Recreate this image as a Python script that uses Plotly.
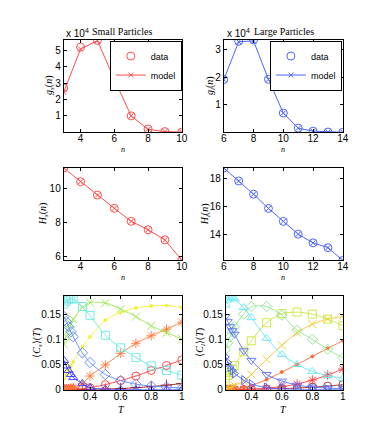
import plotly.graph_objects as go

W, H = 376, 434

# ---------------- data ----------------
n_small = [3, 4, 5, 6, 7, 8, 9, 10]
gs_data = [27000, 52000, 56000, 32500, 10000, 2000, 400, 100]
gs_model = [24500, 50800, 56000, 32200, 10000, 1800, 400, 100]
hs_data = [11.18, 10.38, 9.6, 8.83, 8.07, 7.58, 6.99, 5.8]
hs_model = [11.18, 10.38, 9.6, 8.83, 8.07, 7.58, 6.99, 5.8]

n_large = [6, 7, 8, 9, 10, 11, 12, 13, 14]
gl_data = [19200, 33200, 33700, 19300, 7000, 1500, 400, 100, 0]
gl_model = [19200, 33000, 33300, 19300, 7000, 1500, 400, 100, 0]
hl_data = [18.7, 17.79, 16.86, 15.86, 14.95, 14.05, 13.44, 13.1, 12.2]
hl_model = [18.7, 17.79, 16.86, 15.86, 14.95, 14.05, 13.44, 13.1, 12.2]

T = [0.23, 0.245, 0.26, 0.275, 0.29, 0.35, 0.4, 0.5, 0.6, 0.7, 0.8, 0.9, 1.0]

cs_n3 = [0, 0, 0, 0, 0, 0.0002, 0.0004, 0.001, 0.002, 0.004, 0.006, 0.009, 0.012]
cs_n4 = [0.0002, 0.0003, 0.0004, 0.0006, 0.0008, 0.002, 0.004, 0.01, 0.018, 0.027, 0.038, 0.048, 0.059]
cs_n5 = [0.001, 0.0015, 0.002, 0.003, 0.004, 0.012, 0.027, 0.049, 0.072, 0.092, 0.107, 0.12, 0.134]
cs_n6 = [0.022, 0.03, 0.038, 0.047, 0.055, 0.085, 0.105, 0.138, 0.153, 0.162, 0.166, 0.167, 0.163]
cs_n7 = [0.09, 0.105, 0.118, 0.13, 0.14, 0.163, 0.173, 0.172, 0.16, 0.145, 0.127, 0.113, 0.101]
cs_n8 = [0.17, 0.176, 0.18, 0.181, 0.18, 0.165, 0.147, 0.108, 0.083, 0.064, 0.047, 0.038, 0.029]
cs_n9 = [0.145, 0.135, 0.125, 0.115, 0.105, 0.073, 0.054, 0.03, 0.018, 0.011, 0.007, 0.005, 0.003]
cs_n10 = [0.058, 0.047, 0.038, 0.03, 0.024, 0.012, 0.004, 0.001, 0.0003, 0, 0, 0, 0]

cl_n6 = [0, 0, 0, 0, 0, 0.0003, 0.0005, 0.001, 0.002, 0.003, 0.005, 0.007, 0.01]
cl_n7 = [0, 0, 0, 0, 0, 0.0005, 0.001, 0.003, 0.006, 0.011, 0.019, 0.029, 0.041]
cl_n8 = [0.0005, 0.0007, 0.001, 0.0013, 0.0017, 0.004, 0.008, 0.02, 0.035, 0.05, 0.066, 0.082, 0.097]
cl_n9 = [0.002, 0.003, 0.004, 0.006, 0.008, 0.017, 0.03, 0.06, 0.088, 0.113, 0.13, 0.14, 0.145]
cl_n10 = [0.023, 0.028, 0.034, 0.041, 0.048, 0.075, 0.097, 0.133, 0.151, 0.154, 0.15, 0.14, 0.127]
cl_n11 = [0.08, 0.093, 0.105, 0.115, 0.125, 0.15, 0.165, 0.165, 0.148, 0.118, 0.1, 0.08, 0.063]
cl_n12 = [0.168, 0.178, 0.182, 0.183, 0.18, 0.163, 0.143, 0.102, 0.07, 0.05, 0.036, 0.028, 0.022]
cl_n13 = [0.145, 0.135, 0.125, 0.117, 0.11, 0.077, 0.058, 0.03, 0.017, 0.009, 0.005, 0.003, 0.002]
cl_n14 = [0.065, 0.054, 0.045, 0.038, 0.032, 0.019, 0.011, 0.004, 0.0015, 0.0005, 0.0002, 0.0001, 0]

small_series = [cs_n3, cs_n4, cs_n5, cs_n6, cs_n7, cs_n8, cs_n9, cs_n10]
small_symbols = ["cross-thin-open", "circle-open", "asterisk-open", "circle", "x-thin-open",
                 "square-open", "diamond-open", "triangle-up-open"]
small_colors = ["#9b1c1c", "#ff3b3b", "#ff7a3a", "#f2f23a", "#99e84a", "#66e8e0", "#5b86ff", "#3b3bff"]

large_series = [cl_n6, cl_n7, cl_n8, cl_n9, cl_n10, cl_n11, cl_n12, cl_n13, cl_n14]
large_symbols = ["circle-open", "asterisk-open", "circle", "x-thin-open", "square-open",
                 "diamond-open", "triangle-up-open", "triangle-down-open", "triangle-right-open"]
large_colors = ["#9b2a2a", "#ff3b3b", "#ff6a3a", "#f2c830", "#c8e83a", "#8ee88e", "#66e8f0", "#5b70ff", "#4a60ff"]

RED = "#ff4d4d"
BLUE = "#4d66ff"

# ---------------- layout helpers ----------------
def px_x(a, b):
    return [a / W, b / W]

def px_y(top, bottom):
    return [1 - bottom / H, 1 - top / H]

TICKFONT = dict(family="Liberation Sans, Arial", size=10, color="black")
SERIF = "Liberation Serif, Times New Roman, serif"

def ax(domain, rng, anchor, tickvals=None, ticktext=None, is_x=False):
    d = dict(domain=domain, range=rng, anchor=anchor, showline=True, linecolor="black",
             linewidth=1, mirror="ticks", ticks="inside", ticklen=3, tickcolor="black",
             showgrid=False, zeroline=False, tickfont=TICKFONT)
    if is_x:
        d["ticklabelstandoff"] = -3
    if tickvals is not None:
        d["tickvals"] = tickvals
    if ticktext is not None:
        d["ticktext"] = ticktext
    return d

fig = go.Figure()

CS = 8   # circle size
XS = 5   # x size

# panel 1: g_s
fig.add_trace(go.Scatter(x=n_small, y=gs_data, mode="markers", name="data",
                         marker=dict(symbol="circle-open", size=CS, color=RED, line=dict(width=1)),
                         xaxis="x", yaxis="y", legend="legend"))
fig.add_trace(go.Scatter(x=n_small, y=gs_model, mode="lines+markers", name="model",
                         line=dict(color=RED, width=1),
                         marker=dict(symbol="x-thin-open", size=XS, color=RED, line=dict(width=1)),
                         xaxis="x", yaxis="y", legend="legend"))
# panel 2: g_l
fig.add_trace(go.Scatter(x=n_large, y=gl_data, mode="markers", name="data",
                         marker=dict(symbol="circle-open", size=CS, color=BLUE, line=dict(width=1)),
                         xaxis="x2", yaxis="y2", legend="legend2"))
fig.add_trace(go.Scatter(x=n_large, y=gl_model, mode="lines+markers", name="model",
                         line=dict(color=BLUE, width=1),
                         marker=dict(symbol="x-thin-open", size=XS, color=BLUE, line=dict(width=1)),
                         xaxis="x2", yaxis="y2", legend="legend2"))
# panel 3: H_s
fig.add_trace(go.Scatter(x=n_small, y=hs_data, mode="markers", showlegend=False,
                         marker=dict(symbol="circle-open", size=CS, color=RED, line=dict(width=1)),
                         xaxis="x3", yaxis="y3"))
fig.add_trace(go.Scatter(x=n_small, y=hs_model, mode="lines+markers", showlegend=False,
                         line=dict(color=RED, width=1),
                         marker=dict(symbol="x-thin-open", size=XS, color=RED, line=dict(width=1)),
                         xaxis="x3", yaxis="y3"))
# panel 4: H_l
fig.add_trace(go.Scatter(x=n_large, y=hl_data, mode="markers", showlegend=False,
                         marker=dict(symbol="circle-open", size=CS, color=BLUE, line=dict(width=1)),
                         xaxis="x4", yaxis="y4"))
fig.add_trace(go.Scatter(x=n_large, y=hl_model, mode="lines+markers", showlegend=False,
                         line=dict(color=BLUE, width=1),
                         marker=dict(symbol="x-thin-open", size=XS, color=BLUE, line=dict(width=1)),
                         xaxis="x4", yaxis="y4"))

# panel 5: C_s
for ys, sym, col in zip(small_series, small_symbols, small_colors):
    size = 3 if sym == "circle" else 8
    fig.add_trace(go.Scatter(x=T, y=ys, mode="lines+markers", showlegend=False,
                             line=dict(color=col, width=0.9, shape="spline", smoothing=0.7),
                             marker=dict(symbol=sym, size=size, color=col, line=dict(width=0.9, color=col)),
                             xaxis="x5", yaxis="y5"))
# panel 6: C_l
for ys, sym, col in zip(large_series, large_symbols, large_colors):
    size = 3 if sym == "circle" else 8
    fig.add_trace(go.Scatter(x=T, y=ys, mode="lines+markers", showlegend=False,
                             line=dict(color=col, width=0.9, shape="spline", smoothing=0.7),
                             marker=dict(symbol=sym, size=size, color=col, line=dict(width=0.9, color=col)),
                             xaxis="x6", yaxis="y6"))

XL, XR = 54, 175
XL2, XR2 = 218, 340
XL3 = 220

LEGFONT = dict(family="Liberation Sans, Arial", size=9, color="black")

fig.update_layout(
    width=W, height=H, margin=dict(l=0, r=0, t=0, b=0),
    paper_bgcolor="white", plot_bgcolor="white",
    xaxis=ax(px_x(XL, XR), [3, 10], "y", [4, 6, 8, 10], is_x=True),
    yaxis=ax(px_y(32, 126), [0, 56600], "x", [10000, 20000, 30000, 40000, 50000], ["1", "2", "3", "4", "5"]),
    xaxis2=ax(px_x(XL2, XR2), [6, 14], "y2", [6, 8, 10, 12, 14], is_x=True),
    yaxis2=ax(px_y(32, 126), [0, 33800], "x2", [10000, 20000, 30000], ["1", "2", "3"]),
    xaxis3=ax(px_x(XL, XR), [3, 10], "y3", [4, 6, 8, 10], is_x=True),
    yaxis3=ax(px_y(162, 256), [5.79, 11.19], "x3", [6, 8, 10]),
    xaxis4=ax(px_x(XL2, XR2), [6, 14], "y4", [6, 8, 10, 12, 14], is_x=True),
    yaxis4=ax(px_y(162, 256), [12.2, 18.72], "x4", [14, 16, 18]),
    xaxis5=ax(px_x(XL, XR), [0.228, 1.0], "y5", [0.4, 0.6, 0.8, 1.0], ["0.4", "0.6", "0.8", "1"], is_x=True),
    yaxis5=ax(px_y(292, 387), [0, 0.186], "x5", [0, 0.05, 0.1, 0.15], ["0", "0.05", "0.1", "0.15"]),
    xaxis6=ax(px_x(XL3, XR2), [0.232, 1.0], "y6", [0.4, 0.6, 0.8, 1.0], ["0.4", "0.6", "0.8", "1"], is_x=True),
    yaxis6=ax(px_y(292, 387), [0, 0.186], "x6", [0, 0.05, 0.1, 0.15], ["0", "0.05", "0.1", "0.15"]),
    legend=dict(x=XR / W, y=1 - 33 / H, xanchor="right", yanchor="top",
                bordercolor="black", borderwidth=1, bgcolor="white",
                font=LEGFONT, itemwidth=30, tracegroupgap=0),
    legend2=dict(x=(XR2 - 1) / W, y=1 - 33 / H, xanchor="right", yanchor="top",
                 bordercolor="black", borderwidth=1, bgcolor="white",
                 font=LEGFONT, itemwidth=30, tracegroupgap=0),
)

def ann(text, x, y, size=10, family=SERIF, angle=0, xanchor="center"):
    fig.add_annotation(text=text, x=x / W, y=1 - y / H, xref="paper", yref="paper",
                       showarrow=False, textangle=angle, xanchor=xanchor, yanchor="middle",
                       font=dict(family=family, size=size, color="black"))

# titles
ann("Small Particles", 114, 24, size=10)
ann("Large Particles", 280, 24, size=10)
ann("x 10<sup>4</sup>", 54, 25, size=10, family="Liberation Sans, Arial", xanchor="left")
ann("x 10<sup>4</sup>", 219, 25, size=10, family="Liberation Sans, Arial", xanchor="left")

# y labels
ann("<i>g<sub>s</sub></i>(<i>n</i>)", 40, 79, size=10, angle=-90)
ann("<i>g<sub>l</sub></i>(<i>n</i>)", 205, 79, size=10, angle=-90)
ann("<i>H<sub>s</sub></i>(<i>n</i>)", 33, 209, size=10, angle=-90)
ann("<i>H<sub>l</sub></i>(<i>n</i>)", 199, 209, size=10, angle=-90)
ann("⟨<i>C<sub>s</sub></i>⟩(<i>T</i>)", 27, 339, size=10, angle=-90)
ann("⟨<i>C<sub>l</sub></i>⟩(<i>T</i>)", 194, 339, size=10, angle=-90)

# x labels
ann("<i>n</i>", 115, 143, size=8)
ann("<i>n</i>", 279, 143, size=8)
ann("<i>n</i>", 115, 273, size=8)
ann("<i>n</i>", 279, 273, size=8)
ann("<i>T</i>", 113, 407, size=10)
ann("<i>T</i>", 279, 407, size=10)

fig.write_html("out.html")
